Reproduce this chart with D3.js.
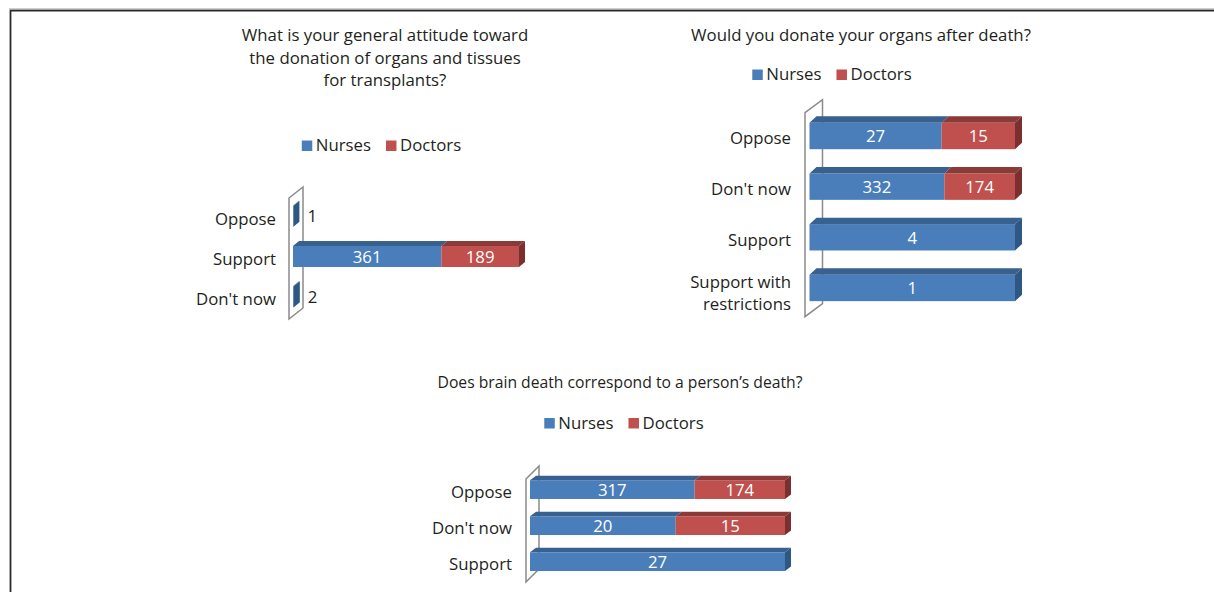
<!DOCTYPE html>
<html><head><meta charset="utf-8">
<script src="https://cdn.jsdelivr.net/npm/d3@7"></script>
<style>body{margin:0;background:#fff;} text{font-family:"Open Sans",sans-serif;}</style>
</head><body><svg id="c" width="1214" height="592"></svg>
<script>
const seriesNames = ["Nurses", "Doctors"];
const seriesColors = ["#4a7ebb", "#c0504d"];
const seriesTop = ["#38618f", "#8c3a38"];
const seriesSide = ["#2f5783", "#7a302e"];

const p1Title = ["What is your general attitude toward", "the donation of organs and tissues", "for transplants?"];
const p1Categories = ["Oppose", "Support", "Don't now"];
const p1Nurses = [1, 361, 2];
const p1Doctors = [0, 189, 0];

const p2Title = ["Would you donate your organs after death?"];
const p2Categories = ["Oppose", "Don't now", "Support", "Support with\nrestrictions"];
const p2Nurses = [27, 332, 4, 1];
const p2Doctors = [15, 174, 0, 0];

const p3Title = ["Does brain death correspond to a person\u2019s death?"];
const p3Categories = ["Oppose", "Don't now", "Support"];
const p3Nurses = [317, 20, 27];
const p3Doctors = [174, 15, 0];

const svg = d3.select("#c");
const textColor = "#231f20";
const FS = 16.8;

// frame
svg.append("path").attr("d", "M1214,10.5H10.5V592").attr("fill", "none").attr("stroke", "#2a2a2a").attr("stroke-width", 1.8);
svg.append("path").attr("d", "M1214,8.8H9").attr("fill", "none").attr("stroke", "#bbb").attr("stroke-width", 1);

const panels = [
  {title: p1Title, cats: p1Categories, vals: [p1Nurses, p1Doctors], mode: "absolute",
   xr: [293, 519], yr: [196, 317], labelX: 276, d: [6, 5], wall: [14, 11], wallOff: 4, wallY: [198, 319],
   titleX: 385, titleY: 41, titleFS: 16.8, legendX: 381.5, legendY: 151},
  {title: p2Title, cats: p2Categories, vals: [p2Nurses, p2Doctors], mode: "percent",
   xr: [809.5, 1015], yr: [110.7, 313.3], labelX: 791, d: [7, 6.5], wall: [17.5, 13], wallOff: 4.5, wallY: [112.7, 316.7],
   titleX: 861, titleY: 41, titleFS: 16.8, legendX: 832, legendY: 80},
  {title: p3Title, cats: p3Categories, vals: [p3Nurses, p3Doctors], mode: "percent",
   xr: [530, 785], yr: [471.6, 579.7], labelX: 512, d: [6, 4.5], wall: [13, 13], wallOff: 4, wallY: [479, 582],
   titleX: 620, titleY: 388, titleFS: 15.7, legendX: 624, legendY: 428.5}
];

panels.forEach(p => {
  const g = svg.append("g");
  // title
  p.title.forEach((line, i) => {
    g.append("text").attr("x", p.titleX).attr("y", p.titleY + i * 22.5)
      .attr("text-anchor", "middle").attr("font-size", p.titleFS).attr("fill", textColor).text(line);
  });
  // legend
  const lg = g.append("g");
  let cx = 0;
  seriesNames.forEach((s, i) => {
    lg.append("rect").attr("x", cx).attr("y", -10.5).attr("width", 10.5).attr("height", 10.5).attr("fill", seriesColors[i]);
    const t = lg.append("text").attr("x", cx + 14).attr("y", 0).attr("font-size", FS).attr("fill", textColor).text(s);
    cx += 14 + t.node().getComputedTextLength() + 15;
  });
  const lw = cx - 15;
  lg.attr("transform", `translate(${p.legendX - lw / 2},${p.legendY})`);

  // data
  const rows = p.cats.map((c, i) => {
    const v = p.vals.map(a => a[i]);
    const tot = d3.sum(v);
    return {cat: c, v, tot};
  });
  const maxTot = d3.max(rows, r => r.tot);
  const x = d3.scaleLinear().domain([0, p.mode === "percent" ? 1 : maxTot]).range(p.xr);
  const y = d3.scaleBand().domain(p.cats).range(p.yr).paddingInner(0.48).paddingOuter(0.24);
  const [dx, dy] = p.d;

  // wall
  const wx = p.xr[0] - p.wallOff;
  const [wy0, wy1] = p.wallY;
  const [wdx, wdy] = p.wall;
  g.append("path")
    .attr("d", `M${wx},${wy0}L${wx + wdx},${wy0 - wdy}L${wx + wdx},${wy1 - wdy}L${wx},${wy1}Z`)
    .attr("fill", "#fff").attr("stroke", "#8a8a8a").attr("stroke-width", 1.5);

  // category labels
  rows.forEach(r => {
    const lines = r.cat.split("\n");
    const yc = y(r.cat) + y.bandwidth() / 2 + 2.5;
    const t = g.append("text").attr("x", p.labelX).attr("text-anchor", "end").attr("font-size", FS).attr("fill", textColor);
    if (lines.length === 1) {
      t.attr("y", yc).attr("dy", "0.35em").text(lines[0]);
    } else {
      lines.forEach((ln, k) => {
        t.append("tspan").attr("x", p.labelX).attr("y", yc + (k === 0 ? -8.5 : 13.5)).attr("dy", "0.35em").text(ln);
      });
    }
  });

  // bars
  rows.forEach(r => {
    const yb = y(r.cat), h = y.bandwidth();
    let acc = 0;
    const segs = r.v.map((val, i) => {
      const a = p.mode === "percent" ? acc / r.tot : acc;
      acc += val;
      const b = p.mode === "percent" ? acc / r.tot : acc;
      return {i, val, x0: x(a), x1: x(b)};
    });
    const nz = segs.filter(s => s.val > 0);
    nz.forEach(s => {
      g.append("rect").attr("x", s.x0).attr("y", yb).attr("width", Math.max(0, s.x1 - s.x0)).attr("height", h)
        .attr("fill", seriesColors[s.i]);
      g.append("path")
        .attr("d", `M${s.x0},${yb}L${s.x0 + dx},${yb - dy}L${s.x1 + dx},${yb - dy}L${s.x1},${yb}Z`)
        .attr("fill", seriesTop[s.i]);
    });
    const last = nz[nz.length - 1];
    const ex = last.x1;
    g.append("path")
      .attr("d", `M${ex},${yb}L${ex + dx},${yb - dy}L${ex + dx},${yb + h - dy}L${ex},${yb + h}Z`)
      .attr("fill", seriesSide[last.i]);
    // value labels
    nz.forEach(s => {
      const w = s.x1 - s.x0;
      if (w > 30) {
        g.append("text").attr("x", (s.x0 + s.x1) / 2).attr("y", yb + h / 2 + 0.5).attr("dy", "0.35em")
          .attr("text-anchor", "middle").attr("font-size", FS).attr("fill", "#fff").text(s.val);
      } else {
        g.append("text").attr("x", s.x1 + dx + 8).attr("y", yb + h / 2).attr("dy", "0.35em")
          .attr("text-anchor", "start").attr("font-size", FS).attr("fill", textColor).text(s.val);
      }
    });
  });
});
</script></body></html>
